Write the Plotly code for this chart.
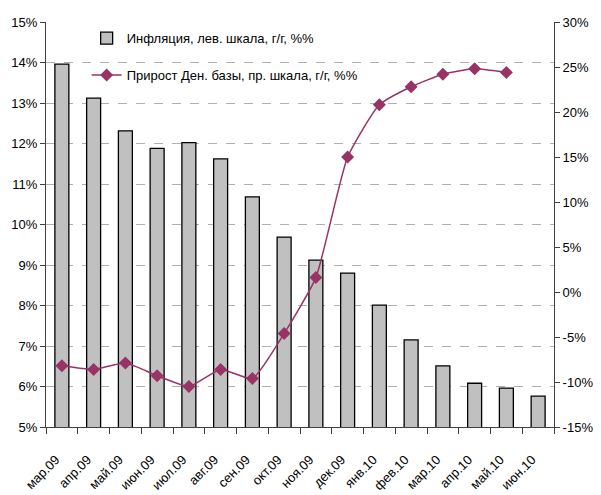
import plotly.graph_objects as go

categories = ["мар.09", "апр.09", "май.09", "июн.09", "июл.09", "авг.09", "сен.09", "окт.09",
              "ноя.09", "дек.09", "янв.10", "фев.10", "мар.10", "апр.10", "май.10", "июн.10"]
inflation = [13.96, 13.12, 12.31, 11.88, 12.02, 11.62, 10.68, 9.69,
             9.12, 8.80, 8.01, 7.15, 6.51, 6.08, 5.96, 5.76]
base_growth = [-8.2, -8.6, -7.9, -9.3, -10.5, -8.6, -9.6, -4.6,
               1.6, 15.0, 20.8, 22.8, 24.2, 24.8, 24.4]

left_ticks = list(range(5, 16))
right_ticks = list(range(-15, 31, 5))

font = dict(family="Liberation Sans, Arial, sans-serif", size=13, color="#000000")

fig = go.Figure()
fig.add_trace(go.Bar(
    x=categories, y=inflation, name="Инфляция, лев. шкала, г/г, %%",
    marker=dict(color="#c0c0c0", line=dict(color="#000000", width=1.3)),
    legendgroup="a", yaxis="y",
))
fig.add_trace(go.Scatter(
    x=categories[:len(base_growth)], y=base_growth, name="Прирост Ден. базы, пр. шкала, г/г, %%",
    mode="lines+markers", line=dict(color="#993366", width=1.5, shape="spline", smoothing=0.5),
    marker=dict(symbol="diamond", size=10, color="#993366"),
    legendgroup="b", yaxis="y2",
))

fig.update_layout(
    width=593, height=487,
    margin=dict(l=38, r=47, t=14, b=68, autoexpand=False),
    paper_bgcolor="white", plot_bgcolor="white",
    font=font,
    bargap=0.56,
    showlegend=True,
    legend=dict(x=0.08, y=0.997, xanchor="left", yanchor="top", bgcolor="rgba(255,255,255,0)",
                font=dict(size=13), tracegroupgap=17, traceorder="grouped"),
    xaxis=dict(
        type="category", range=[-0.5, len(categories) - 0.5],
        showgrid=False, showline=True, linecolor="#404040", linewidth=1,
        ticks="outside", ticklen=6, tickcolor="#404040", tickson="boundaries",
        tickangle=-45, tickfont=dict(size=13), automargin=False,
        ticklabelstandoff=19, ticklabelshift=-6,
    ),
    yaxis=dict(
        range=[5, 15], tickvals=left_ticks, ticktext=[f"{v}%" for v in left_ticks],
        showline=True, linecolor="#404040", linewidth=1, ticks="outside", ticklen=5,
        tickcolor="#404040", showgrid=True, gridcolor="#b0b0b0", griddash="dash", gridwidth=1,
        zeroline=False, automargin=False,
    ),
    yaxis2=dict(
        range=[-15, 30], tickvals=right_ticks, ticktext=[f"{v}%" for v in right_ticks],
        overlaying="y", side="right", showline=True, linecolor="#404040", linewidth=1,
        ticks="outside", ticklen=5, tickcolor="#404040", showgrid=False, zeroline=False,
        automargin=False,
    ),
)

fig.write_html("out.html")
